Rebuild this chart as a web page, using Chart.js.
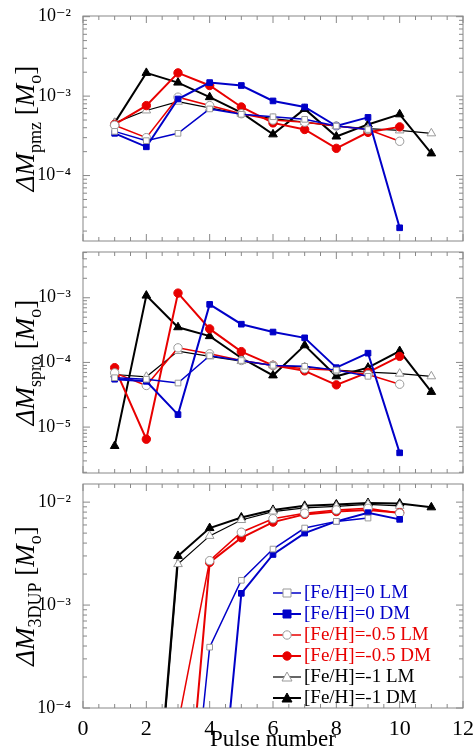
<!DOCTYPE html>
<html><head><meta charset="utf-8">
<script src="https://cdn.jsdelivr.net/npm/chart.js@4/dist/chart.umd.min.js"></script>
<style>body{margin:0;background:#fff;width:474px;height:754px;position:relative;overflow:hidden}
canvas{position:absolute;left:0}</style></head><body>
<div id="w1" style="position:absolute;left:0;top:0;width:474px;height:247px"><canvas id="c1"></canvas></div>
<div id="w2" style="position:absolute;left:0;top:246px;width:474px;height:233px"><canvas id="c2"></canvas></div>
<div id="w3" style="position:absolute;left:0;top:478px;width:474px;height:276px"><canvas id="c3"></canvas></div>
<script>
const pulses=[1,2,3,4,5,6,7,8,9,10,11];
const seriesNames=['[Fe/H]=0 LM','[Fe/H]=0 DM','[Fe/H]=-0.5 LM','[Fe/H]=-0.5 DM','[Fe/H]=-1 LM','[Fe/H]=-1 DM'];
// panel 1: pmz
const pmz_Z0_LM=[3.6e-4,2.75e-4,3.4e-4,6.9e-4,5.9e-4,5.5e-4,5.1e-4,4.2e-4,3.8e-4,null,null];
const pmz_Z0_DM=[3.4e-4,2.3e-4,9.2e-4,1.48e-3,1.36e-3,8.7e-4,7.3e-4,4.2e-4,5.4e-4,2.2e-5,null];
const pmz_Z05_LM=[4.3e-4,3.0e-4,9.7e-4,7.6e-4,6.0e-4,5.0e-4,4.7e-4,4.2e-4,3.8e-4,2.7e-4,null];
const pmz_Z05_DM=[4.4e-4,7.6e-4,1.96e-3,1.36e-3,7.3e-4,4.6e-4,3.8e-4,2.2e-4,3.5e-4,4.1e-4,null];
const pmz_Z1_LM=[4.6e-4,6.6e-4,8.5e-4,7.1e-4,6.0e-4,5.2e-4,4.7e-4,4.2e-4,3.9e-4,3.7e-4,3.4e-4];
const pmz_Z1_DM=[4.6e-4,1.96e-3,1.48e-3,9.7e-4,6.2e-4,3.3e-4,6.9e-4,3.1e-4,4.4e-4,5.9e-4,1.9e-4];
// panel 2: spro
const spro_Z0_LM=[5.8e-5,5.5e-5,4.8e-5,1.27e-4,1.07e-4,9.0e-5,8.7e-5,7.6e-5,6.1e-5,null,null];
const spro_Z0_DM=[5.5e-5,5.1e-5,1.56e-5,7.9e-4,3.9e-4,2.95e-4,2.4e-4,8.3e-5,1.39e-4,4.0e-6,null];
const spro_Z05_LM=[6.9e-5,4.4e-5,1.68e-4,1.36e-4,1.07e-4,9.0e-5,8.0e-5,7.6e-5,6.5e-5,4.6e-5,null];
const spro_Z05_DM=[8.3e-5,6.5e-6,1.18e-3,3.3e-4,1.47e-4,9.0e-5,7.4e-5,4.5e-5,7.0e-5,1.24e-4,null];
const spro_Z1_LM=[6.5e-5,6.0e-5,1.5e-4,1.24e-4,1.05e-4,9.0e-5,8.5e-5,7.6e-5,7.1e-5,6.7e-5,6.1e-5];
const spro_Z1_DM=[5.1e-6,1.08e-3,3.5e-4,2.55e-4,1.17e-4,6.3e-5,1.84e-4,6.1e-5,8.3e-5,1.5e-4,3.5e-5];
// panel 3: 3DUP (first values lie below the axis)
const dup_Z0_LM=[null,null,4e-7,3.9e-4,1.74e-3,3.5e-3,5.6e-3,6.5e-3,7.0e-3,null,null];
const dup_Z0_DM=[null,null,null,8e-7,1.3e-3,3.1e-3,5.0e-3,6.5e-3,7.9e-3,6.8e-3,null];
const dup_Z05_LM=[null,null,7e-5,2.7e-3,5.1e-3,6.9e-3,7.8e-3,8.4e-3,8.7e-3,7.8e-3,null];
const dup_Z05_DM=[null,null,8e-7,2.6e-3,4.5e-3,6.4e-3,7.6e-3,8.1e-3,8.4e-3,7.9e-3,null];
const dup_Z1_LM=[null,5e-7,2.5e-3,4.7e-3,6.7e-3,8.1e-3,8.8e-3,9.1e-3,9.5e-3,9.2e-3,null];
const dup_Z1_DM=[null,6e-7,3.0e-3,5.6e-3,7.1e-3,8.4e-3,9.2e-3,9.5e-3,9.8e-3,9.7e-3,8.9e-3];

const styles=[
 {c:'#0000c8',p:'rect',f:'#fff',w:1.5},{c:'#0000c8',p:'rect',f:'#0000c8',w:2},
 {c:'#e80000',p:'circle',f:'#fff',w:1.5},{c:'#e80000',p:'circle',f:'#e80000',w:2},
 {c:'#000',p:'triangle',f:'#fff',w:1.2},{c:'#000',p:'triangle',f:'#000',w:2}];
const SERIF='"Liberation Serif","DejaVu Serif",serif';
const sup={'-':'⁻','0':'⁰','1':'¹','2':'²','3':'³','4':'⁴','5':'⁵','6':'⁶'};
function mkds(arrs){return arrs.map((a,i)=>{const s=styles[i];const r=s.p==='rect'?4:4.2;
 return {label:seriesNames[i],data:a,borderColor:s.c,backgroundColor:s.f,pointBackgroundColor:s.f,pointBorderColor:s.f==='#fff'?'#999':s.c,
 pointStyle:s.p,pointRadius:s.p==='triangle'?5:r,pointBorderWidth:1,borderWidth:s.w,spanGaps:false,clip:0,tension:0};});}

const frame={id:'frame',afterDatasetsDraw(ch){const {ctx,chartArea:a}=ch;ctx.save();
 ctx.strokeStyle='#888';ctx.lineWidth=1;ctx.strokeRect(a.left,a.top,a.right-a.left,a.bottom-a.top);
 const y=ch.scales.y,x=ch.scales.x;
 const lmin=Math.log10(y.min),lmax=Math.log10(y.max);
 for(let d=Math.floor(lmin);d<=Math.ceil(lmax);d++)for(let m=1;m<10;m++){const v=m*Math.pow(10,d);if(v<y.min||v>y.max)continue;
  const py=y.getPixelForValue(v);const L=m===1?7:4;ctx.beginPath();ctx.moveTo(a.left,py);ctx.lineTo(a.left+L,py);ctx.moveTo(a.right,py);ctx.lineTo(a.right-L,py);ctx.stroke();}
 for(let v=0;v<=12;v+=0.5){const px=x.getPixelForValue(v);const L=v%2===0?7:4;ctx.beginPath();ctx.moveTo(px,a.bottom);ctx.lineTo(px,a.bottom-L);ctx.moveTo(px,a.top);ctx.lineTo(px,a.top+L);ctx.stroke();}
 const t=ch.options.plugins.frame.title;ctx.translate(26,(a.top+a.bottom)/2);ctx.rotate(-Math.PI/2);ctx.fillStyle='#000';ctx.textBaseline='alphabetic';
 const big='27px '+SERIF,sm='18px '+SERIF;
 const parts=[['ΔM',big,0,true],[t,sm,7],[' [',big,0],['M',big,0,true],['o',sm,7],[']',big,0]];
 let tw=0;parts.forEach(p=>{ctx.font=(p[3]?'italic ':'')+p[1];tw+=ctx.measureText(p[0]).width;});
 let cx=-tw/2;parts.forEach(p=>{ctx.font=(p[3]?'italic ':'')+p[1];ctx.fillText(p[0],cx,8+p[2]);cx+=ctx.measureText(p[0]).width;});
 ctx.restore();}};

const legendP={id:'leg',afterDatasetsDraw(ch){if(!ch.options.plugins.leg.show)return;const {ctx}=ch;const x0=ch.scales.x.getPixelForValue(6.0);
 let y0=ch.chartArea.top+109;ctx.save();ctx.font='19px '+SERIF;ctx.textBaseline='middle';
 ch.data.datasets.forEach((d,i)=>{const s=styles[i];const yy=y0+i*21;ctx.strokeStyle=s.c;ctx.lineWidth=s.w;ctx.beginPath();ctx.moveTo(x0,yy);ctx.lineTo(x0+28,yy);ctx.stroke();
  ctx.fillStyle=s.f;ctx.strokeStyle=s.f==='#fff'?'#999':s.c;ctx.lineWidth=1;const cx=x0+14;ctx.beginPath();
  if(s.p==='rect'){ctx.rect(cx-4,yy-4,8,8);}else if(s.p==='circle'){ctx.arc(cx,yy,4.2,0,7);}else{ctx.moveTo(cx,yy-5);ctx.lineTo(cx+5,yy+4);ctx.lineTo(cx-5,yy+4);ctx.closePath();}
  ctx.fill();ctx.stroke();ctx.fillStyle=s.c;ctx.fillText(d.label,x0+31,yy);});ctx.restore();}};

function make(id,arrs,ymin,ymax,title,top,bottom,showX,leg){
 return new Chart(document.getElementById(id),{type:'line',data:{labels:pulses,datasets:mkds(arrs)},plugins:[frame,legendP],
 options:{responsive:true,maintainAspectRatio:false,animation:false,layout:{padding:{top:top,right:11,left:0,bottom:0}},
 plugins:{legend:{display:false},tooltip:{enabled:false},frame:{title:title},leg:{show:leg}},
 scales:{x:{type:'linear',min:0,max:12,grid:{display:false},border:{display:false},
   ticks:{display:showX,stepSize:2,color:'#000',font:{family:SERIF,size:22},padding:0},
   title:{display:showX,text:'Pulse number',color:'#000',font:{family:SERIF,size:23},padding:{top:-4,bottom:0}},
   afterFit(s){s.height=bottom;s.paddingLeft=0;s.paddingRight=0;}},
  y:{type:'logarithmic',min:ymin,max:ymax,grid:{display:false},border:{display:false},
   ticks:{color:'#000',font:{family:SERIF,size:18},padding:4,autoSkip:false,
    callback:(v)=>{const l=Math.log10(v);if(Math.abs(l-Math.round(l))>1e-6)return '';return '10'+String(Math.round(l)).split('').map(c=>sup[c]).join('');}},
   afterFit(s){s.width=83;s.paddingTop=0;s.paddingBottom=0;}}}}});}
make('c1',[pmz_Z0_LM,pmz_Z0_DM,pmz_Z05_LM,pmz_Z05_DM,pmz_Z1_LM,pmz_Z1_DM],1.5e-5,1.02e-2,'pmz',16,0.5,false,false);
make('c2',[spro_Z0_LM,spro_Z0_DM,spro_Z05_LM,spro_Z05_DM,spro_Z1_LM,spro_Z1_DM],1.95e-6,5.1e-3,'spro',0.5,0.5,false,false);
make('c3',[dup_Z0_LM,dup_Z0_DM,dup_Z05_LM,dup_Z05_DM,dup_Z1_LM,dup_Z1_DM],1e-4,1.5e-2,'3DUP',0.5,46,true,true);
</script></body></html>
